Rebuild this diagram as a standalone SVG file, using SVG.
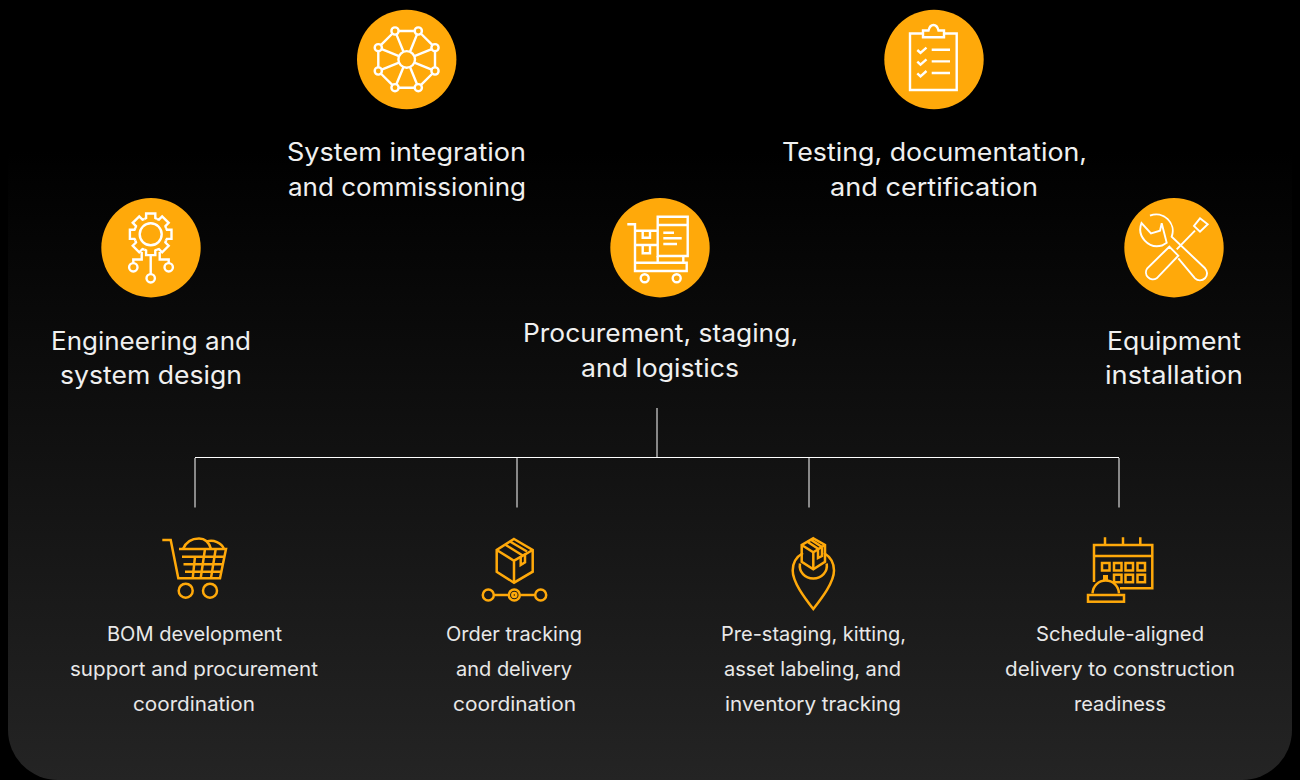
<svg xmlns="http://www.w3.org/2000/svg" xmlns:xlink="http://www.w3.org/1999/xlink" width="1300" height="780" viewBox="0 0 1300 780">
<style>
.h{font:400 25px "Inter","Liberation Sans",sans-serif;fill:#f0f0f0;text-anchor:middle}
.s{font:400 20px "Inter","Liberation Sans",sans-serif;fill:#e8e8e8;text-anchor:middle}
.disc{fill:#ffa90a}
.w{fill:none;stroke:#fff;stroke-width:2.4;stroke-linejoin:miter}
.o{fill:none;stroke:#ffa90a;stroke-width:2.5;stroke-linejoin:miter}
.c1{stroke:#fff;stroke-width:1;fill:none}
</style>
<defs>
<linearGradient id="bg" gradientUnits="userSpaceOnUse" x1="0" y1="150" x2="0" y2="780"><stop offset="0" stop-color="#000"/><stop offset="1" stop-color="#242424"/></linearGradient>
<path id="tooth" d="M-6.31-15.24-4.6-16.2V-20.8H4.6V-16.2L6.31-15.24"/>
</defs>
<rect width="1300" height="780" fill="#000"/>
<rect x="8" y="-100" width="1284" height="880" rx="50" fill="url(#bg)"/>

<g id="connectors">
<path class="c1" d="M657 408V458M195 457.5H1119M195 458V507.5M517 458V507.5M809 458V507.5M1119 458V507.5"/>
</g>

<g id="node-system-integration">
<circle class="disc" cx="406.7" cy="59.5" r="49.7"/>
<g class="w">
<circle cx="406.7" cy="59.4" r="8.3"/>
<circle cx="395" cy="31" r="3.6"/><circle cx="418.3" cy="31" r="3.6"/><circle cx="435" cy="47.7" r="3.6"/><circle cx="435" cy="71" r="3.6"/><circle cx="418.3" cy="87.7" r="3.6"/><circle cx="395" cy="87.7" r="3.6"/><circle cx="378.3" cy="71" r="3.6"/><circle cx="378.3" cy="47.7" r="3.6"/>
<path d="M398.6 31H414.7M420.8 33.5 432.5 45.2M435 51.3V67.4M432.5 73.5 420.8 85.2M414.7 87.7H398.6M392.5 85.2 380.8 73.5M378.3 67.4V51.3M380.8 45.2 392.5 33.5"/>
<path d="M396.4 34.4 403.5 51.7M417 34.4 410 51.7M431.7 49.1 414.4 56.2M431.7 69.6 414.4 62.6M417 84.3 410 67M396.4 84.3 403.5 67M381.7 69.6 399 62.6M381.7 49.1 399 56.2"/>
</g>
</g>

<g id="node-testing">
<circle class="disc" cx="934" cy="59.5" r="49.7"/>
<g class="w">
<path d="M922.7 33.5H910V90H956.7V33.5H944"/>
<path d="M923 37.3V30.5H928.5C929.5 26.5 931 25 933.5 25S937.5 26.5 938.5 30.5H944V37.3Z"/>
<path d="M917.3 50 920.5 53 926.5 47.7M917.3 61.7 920.5 64.7 926.5 59.4M917.3 73.3 920.5 76.3 926.5 71"/>
<path d="M931.7 49.7H950M931.7 61.4H950M931.7 73H950"/>
</g>
</g>

<g id="node-engineering">
<circle class="disc" cx="151" cy="247.7" r="49.7"/>
<g class="w">
<circle cx="150.7" cy="234.3" r="11"/>
<g transform="translate(150.7 234.3)">
<use xlink:href="#tooth" href="#tooth"/>
<use xlink:href="#tooth" href="#tooth" transform="rotate(45)"/>
<use xlink:href="#tooth" href="#tooth" transform="rotate(90)"/>
<use xlink:href="#tooth" href="#tooth" transform="rotate(135)"/>
<use xlink:href="#tooth" href="#tooth" transform="rotate(180)"/>
<use xlink:href="#tooth" href="#tooth" transform="rotate(225)"/>
<use xlink:href="#tooth" href="#tooth" transform="rotate(270)"/>
<use xlink:href="#tooth" href="#tooth" transform="rotate(315)"/>
</g>
<circle cx="150.7" cy="278.3" r="4.2"/><circle cx="133.3" cy="267.3" r="4.2"/><circle cx="168.7" cy="267.3" r="4.2"/>
<path d="M150.7 255V274M141.7 252V259.5H133.3V263M159.7 252V259.5H168.7V263"/>
</g>
</g>

<g id="node-procurement">
<circle class="disc" cx="660" cy="247.7" r="49.7"/>
<g class="w">
<path d="M627.3 224.3H635V271H686.7V262.7H635"/>
<path d="M657.7 256V216.7H687.7V256ZM657.7 225H687.7"/>
<path d="M663.3 232.7H674M663.3 238.3H681.7M663.3 244H677"/>
<path d="M635 230.7H657.7M635 245H657.7M657.7 256V262.7M683.3 256V262.7"/>
<path d="M642.7 230.7V237.7H650V230.7M642.7 245V253.3H650V245"/>
<circle cx="644.7" cy="278.3" r="4"/><circle cx="676.7" cy="278.3" r="4"/>
</g>
</g>

<g id="node-equipment">
<circle class="disc" cx="1174" cy="247.7" r="49.7"/>
<g class="w" style="stroke-width:1.9">
<path d="M1150 215.7A16.5 16.5 0 0 1 1171.7 236.7L1205 268.3A7 7 0 0 1 1195 278.3L1178.3 258.3M1166.7 242.7 1162 245.5A17 17 0 0 1 1141.5 223L1151 233.3 1160 230.7 1161.7 223.3Z"/>
<path d="M1169.3 246.7 1147.3 268.3A7 7 0 0 0 1156.7 278.3L1178.3 255.7Z"/>
<path d="M1195 230.7 1176.7 249.3M1200 218.3 1207.7 224.3 1200 231.7 1194 226Z"/>
</g>
</g>

<g id="node-bom">
<g class="o">
<path d="M162.3 540H170.7L178.3 578.3H220L226 549H179"/>
<path d="M182 556.7H225M183.5 564.3H222.5M185 571.7H221"/>
<path d="M205 549 200.7 578.3M215.7 549 211 578.3M195 556.7 192.7 578.3"/>
<path d="M183 549C186 542 192 538.5 199 538.5 205 538.5 209 542 211 549M207 541.5C213 539 222 543 224 549"/>
<circle cx="185.7" cy="590.7" r="7"/><circle cx="210" cy="590.7" r="7"/>
</g>
</g>

<g id="node-order">
<g class="o">
<path d="M514 539 532.7 550V571.7L514 582.7 496.7 571.7V550Z"/>
<path d="M496.7 550 514 560.7 532.7 550M514 560.7V582.7"/>
<path d="M505 544.5 522.7 555.5M510 541.5 527 551.5"/>
<path d="M520.7 556V565L525 562.3V553.5"/>
<circle cx="488.3" cy="595" r="5.5"/><circle cx="514.3" cy="595" r="5.5"/><circle cx="514.3" cy="595" r="2"/><circle cx="540.7" cy="595" r="5.5"/>
<path d="M493.8 595H508.8M519.8 595H535.2"/>
</g>
</g>

<g id="node-prestaging">
<g class="o">
<path d="M803 553C796 557 792.7 564 792.7 570.5 792.7 582 804 597 813.3 609 822.6 597 834 582 834 570.5 834 564 830.6 557 824 553"/>
<path d="M800 563.5C798.5 572 805 578.5 813.3 578.5S828 572 826.7 563.5"/>
<path d="M813.3 538.3 825 545V561.7L813.3 569.3 801.7 561.7V545Z"/>
<path d="M801.7 545 813.3 552.3 825 545M813.3 552.3V569.3"/>
<path d="M807 541.5 818.5 549M810.5 539.5 822 547"/>
<path d="M818 550V558L822 556V547.5"/>
</g>
</g>

<g id="node-schedule">
<g class="o">
<path d="M1094 582V545H1152.3V588.3H1120M1094 556H1152.3"/>
<path d="M1105 537.3V545M1123 537.3V545M1140.3 537.3V545"/>
<rect x="1102" y="563" width="7.5" height="7.5"/><rect x="1114" y="563" width="7.5" height="7.5"/><rect x="1125.5" y="563" width="7.5" height="7.5"/><rect x="1137.5" y="563" width="7.5" height="7.5"/>
<rect x="1114" y="574.7" width="7.5" height="7.5"/><rect x="1125.5" y="574.7" width="7.5" height="7.5"/><rect x="1137.5" y="574.7" width="7.5" height="7.5"/>
<path d="M1092.5 593.3C1093 586 1098.5 580.5 1105.7 580.5S1118.5 586 1119 593.3"/>
<rect x="1088" y="595" width="36" height="6.7"/>
</g>
<rect x="1103" y="575" width="5" height="5" fill="#ffa90a"/>
</g>

<g id="labels-top">
<text class="h" x="406.5" y="161" textLength="239" lengthAdjust="spacingAndGlyphs">System integration</text>
<text class="h" x="407" y="196" textLength="238" lengthAdjust="spacingAndGlyphs">and commissioning</text>
<text class="h" x="934.5" y="161" textLength="305" lengthAdjust="spacingAndGlyphs">Testing, documentation,</text>
<text class="h" x="934" y="196" textLength="208" lengthAdjust="spacingAndGlyphs">and certification</text>
<text class="h" x="151" y="350" textLength="200" lengthAdjust="spacingAndGlyphs">Engineering and</text>
<text class="h" x="151" y="384" textLength="182" lengthAdjust="spacingAndGlyphs">system design</text>
<text class="h" x="660.5" y="342" textLength="275" lengthAdjust="spacingAndGlyphs">Procurement, staging,</text>
<text class="h" x="660" y="377" textLength="158" lengthAdjust="spacingAndGlyphs">and logistics</text>
<text class="h" x="1174" y="350" textLength="134" lengthAdjust="spacingAndGlyphs">Equipment</text>
<text class="h" x="1174" y="384" textLength="138" lengthAdjust="spacingAndGlyphs">installation</text>
</g>
<g id="labels-bottom">
<text class="s" x="194.5" y="641" textLength="175" lengthAdjust="spacingAndGlyphs">BOM development</text>
<text class="s" x="194" y="676" textLength="248" lengthAdjust="spacingAndGlyphs">support and procurement</text>
<text class="s" x="194" y="711" textLength="122" lengthAdjust="spacingAndGlyphs">coordination</text>
<text class="s" x="514" y="641" textLength="136" lengthAdjust="spacingAndGlyphs">Order tracking</text>
<text class="s" x="514" y="676" textLength="116" lengthAdjust="spacingAndGlyphs">and delivery</text>
<text class="s" x="514.5" y="711" textLength="123" lengthAdjust="spacingAndGlyphs">coordination</text>
<text class="s" x="813.5" y="641" textLength="185" lengthAdjust="spacingAndGlyphs">Pre-staging, kitting,</text>
<text class="s" x="812.5" y="676" textLength="177" lengthAdjust="spacingAndGlyphs">asset labeling, and</text>
<text class="s" x="813" y="711" textLength="176" lengthAdjust="spacingAndGlyphs">inventory tracking</text>
<text class="s" x="1120" y="641" textLength="168" lengthAdjust="spacingAndGlyphs">Schedule-aligned</text>
<text class="s" x="1120" y="676" textLength="230" lengthAdjust="spacingAndGlyphs">delivery to construction</text>
<text class="s" x="1120" y="711" textLength="92" lengthAdjust="spacingAndGlyphs">readiness</text>
</g>
</svg>
